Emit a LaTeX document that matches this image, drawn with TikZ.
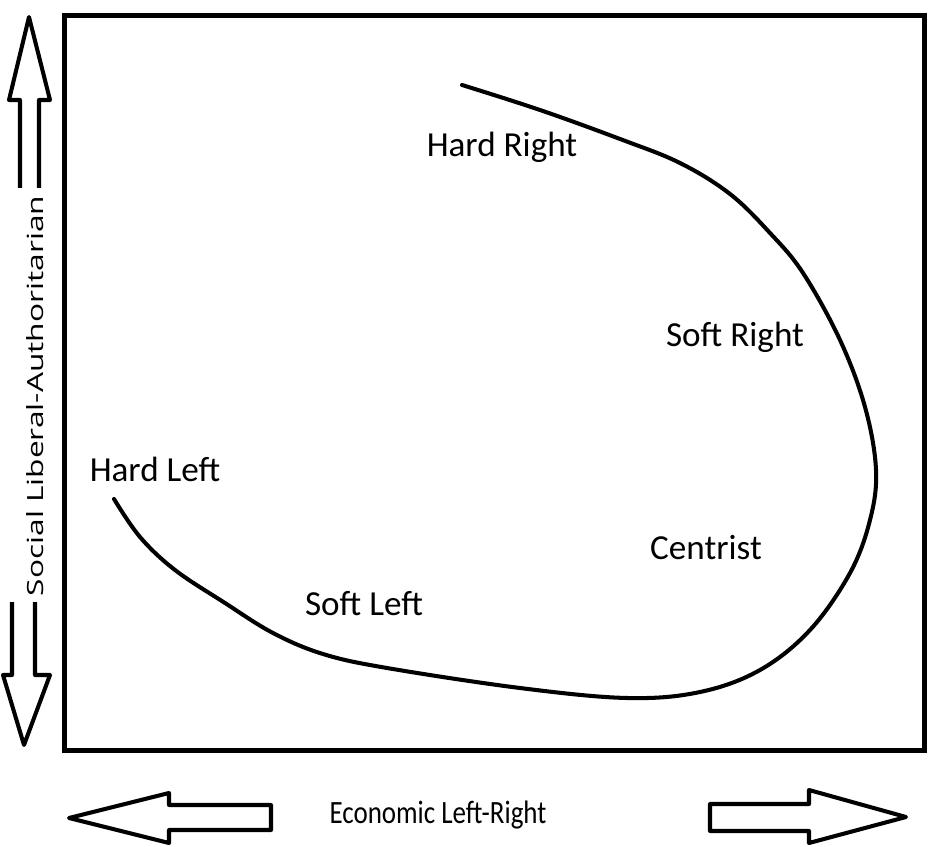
\documentclass[tikz,border=0pt]{standalone}
\usepackage{fontspec}
\setmainfont{Carlito}
\newfontfamily\axisfont[FakeStretch=0.83]{Carlito}
\newfontfamily\sidefont[FakeStretch=1.42]{Open Sans}
\begin{document}
\begin{tikzpicture}[x=0.02cm, y=-0.02cm,
  zone/.style={font=\fontsize{20}{24}\selectfont, anchor=base, inner sep=0pt},
  blockarrow/.style={draw, line width=2.3pt, line join=round}]

  \useasboundingbox (0,0) rectangle (949,847);

  % --- riquadro ---
  \draw[line width=2.6pt] (64.5,15.5) rectangle (924.5,750.5);

  % --- curva ---
  \draw[line width=2.3pt, line cap=round] plot[smooth, tension=0.6] coordinates {
    (114,499) (140,537) (175,570) (225,603) (273,633) (323,654) (387,668)
    (520,688) (627,698) (700,692) (760,670) (810,630) (850,573) (870,520)
    (876,470) (865,407) (840,340) (803,273) (770,233) (730,194) (680,163)
    (620,139) (540,110) (462,85)};

  % --- etichette ---
  \node[zone] (hardright) at (502,157) {Hard Right};
  \node[zone] (softright) at (735,347) {Soft Right};
  \node[zone] (hardleft)  at (155,481) {Hard Left};
  \node[zone] (centrist)  at (706,559) {Centrist};
  \node[zone] (softleft)  at (364,615) {Soft Left};

  % --- asse verticale ---
  \draw[blockarrow] (20,188) -- (20,100) -- (9,100) -- (29,17) -- (50,100) -- (39,100) -- (39,188);
  \draw[blockarrow] (12,602) -- (12,675) -- (3,675) -- (24,745) -- (50,675) -- (35,675) -- (35,602);
  \node[font=\sidefont\fontsize{12.7}{15}\selectfont, rotate=90, anchor=base, inner sep=0pt]
    (social) at (43,396) {Social Liberal-Authoritarian};

  % --- asse orizzontale ---
  \draw[blockarrow] (271,805) -- (169,805) -- (169,793) -- (69,818) -- (169,843) -- (169,830) -- (271,830) -- cycle;
  \draw[blockarrow] (710,804) -- (809,804) -- (809,790) -- (906,817) -- (809,843) -- (809,831) -- (710,831) -- cycle;
  \node[font=\axisfont\fontsize{18.5}{22}\selectfont, anchor=base, inner sep=0pt]
    (economic) at (438,823) {Economic Left-Right};

\end{tikzpicture}
\end{document}
